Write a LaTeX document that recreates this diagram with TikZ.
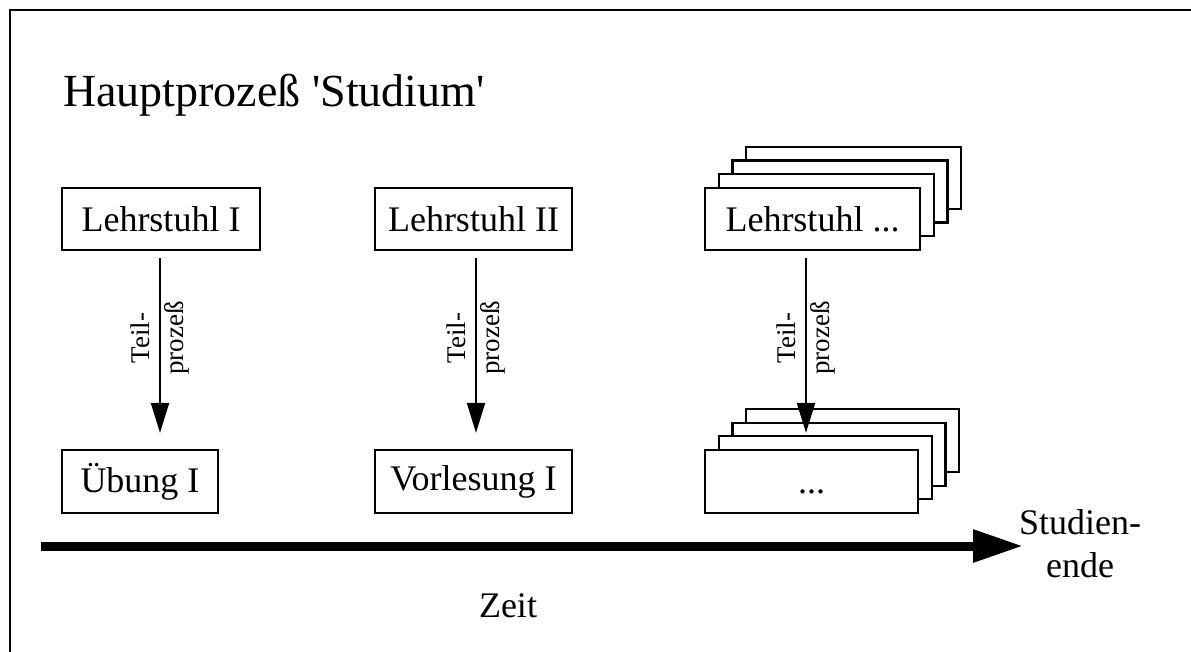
\documentclass[tikz,border=0pt]{standalone}
\usepackage{fontspec}
\setmainfont{Liberation Serif}
\usetikzlibrary{arrows.meta}
\begin{document}
\begin{tikzpicture}[x=1pt,y=-1pt,
  box/.style={draw, line width=2.2pt, fill=white, inner sep=0pt, minimum height=62pt,
    font=\fontsize{36}{43}\selectfont},
  lbl/.style={inner sep=0pt, font=\fontsize{36}{43}\selectfont},
  titlelbl/.style={inner sep=0pt, font=\fontsize{46}{55}\selectfont},
  sublbl/.style={inner sep=0pt, rotate=90, align=center, font=\fontsize{27}{34}\selectfont},
  thinarrow/.style={line width=2.2pt, -{Triangle[length=30pt,width=18pt]}},
  timearrow/.style={line width=9pt, -{Triangle[length=50pt,width=31pt]}}
]
\useasboundingbox (0,0) rectangle (1191,652);
% frame
\draw[line width=2.2pt] (10,652) -- (10,10) -- (1191,10);
% title
\node[titlelbl, anchor=base west] (title) at (63,107) {Hauptprozeß \textquotesingle Studium\textquotesingle};
% top row
\node[box, minimum width=198pt] (l1) at (161,219) {Lehrstuhl I};
\node[box, minimum width=197pt] (l2) at (473.5,219) {Lehrstuhl II};
\foreach \k in {3,2,1}
  \node[box, minimum width=215pt] (l3b\k) at ({812.5+13.7*\k},{219-13.7*\k}) {};
\node[box, minimum width=215pt] (l3) at (812.5,219) {Lehrstuhl ...};
% bottom row
\node[box, minimum width=156pt, minimum height=63pt] (u1) at (140,481.5) {Übung I};
\node[box, minimum width=197pt, minimum height=63pt] (u2) at (473.5,481.5) {Vorlesung I};
\foreach \k in {3,2,1}
  \node[box, minimum width=213pt, minimum height=63pt] (u3b\k) at ({811.5+13.7*\k},{481.5-13.7*\k}) {};
\node[box, minimum width=213pt, minimum height=63pt] (u3) at (811.5,481.5) {\vphantom{L}...};
% sub-process arrows
\draw[thinarrow, shorten <=7pt, shorten >=16pt] ([xshift=-1pt]l1.south) -- ([xshift=-1pt]l1.south |- u1.north)
  node[sublbl, pos=0.44] (t1) {Teil-\\prozeß};
\draw[thinarrow, shorten <=7pt, shorten >=16pt] ([xshift=2.5pt]l2.south) -- ([xshift=2.5pt]l2.south |- u2.north)
  node[sublbl, pos=0.44] (t2) {Teil-\\prozeß};
\draw[thinarrow, shorten <=7pt, shorten >=16pt] ([xshift=-6.5pt]l3.south) -- ([xshift=-6.5pt]l3.south |- u3.north)
  node[sublbl, pos=0.44] (t3) {Teil-\\prozeß};
% time line
\coordinate (ts) at (41,546);
\coordinate (te) at (1023,546);
\draw[timearrow] (ts) -- (te);
\node[lbl, align=center] (ende) at (1080,544) {Studien-\\ende};
\node[lbl, anchor=base] (zeit) at (508,617) {Zeit};
\end{tikzpicture}
\end{document}
